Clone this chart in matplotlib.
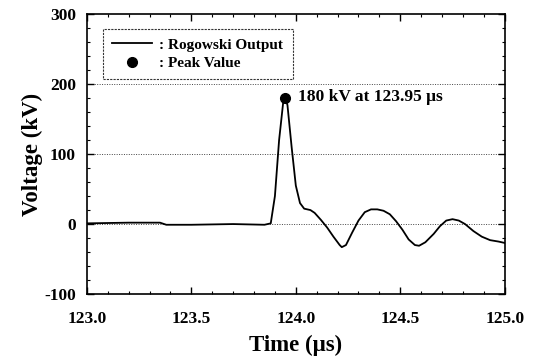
import matplotlib
matplotlib.use("Agg")
import matplotlib.pyplot as plt
from matplotlib.ticker import MultipleLocator

plt.rcParams['font.family'] = ['Liberation Serif', 'DejaVu Serif']
plt.rcParams['font.weight'] = 'bold'
plt.rcParams['axes.unicode_minus'] = False

# waveform
time_us = [123.0, 123.2, 123.35, 123.38, 123.5, 123.7, 123.85, 123.88, 123.90, 123.92,
           123.94, 123.95, 123.96, 123.98, 124.00, 124.02, 124.04, 124.07, 124.09, 124.12,
           124.15, 124.18, 124.21, 124.22, 124.24, 124.27, 124.30, 124.33, 124.36, 124.39,
           124.42, 124.45, 124.48, 124.51, 124.54, 124.57, 124.59, 124.62, 124.66, 124.69,
           124.72, 124.75, 124.78, 124.81, 124.85, 124.89, 124.93, 124.97, 125.0]
voltage_kv = [1, 2, 2, -1, -1, 0, -1, 1, 40, 120,
              175, 180, 170, 110, 55, 30, 22, 20, 16, 6,
              -5, -18, -30, -33, -30, -12, 5, 17, 21, 21,
              19, 14, 4, -8, -22, -30, -31, -26, -14, -3,
              5, 7, 5, 0, -10, -18, -23, -25, -27]
peak_t = 123.95
peak_v = 180

fig = plt.figure(figsize=(5.33, 3.63), dpi=100)
ax = fig.add_axes([0.163, 0.19, 0.784, 0.771])

for g in [0, 100, 200]:
    ax.axhline(g, color='#444444', lw=0.7, ls=(0, (1, 1.5)), zorder=1)

ax.plot(time_us, voltage_kv, color='black', lw=1.3, label=': Rogowski Output', zorder=3)
ax.plot([peak_t], [peak_v], 'o', color='black', ms=7, label=': Peak Value', zorder=4)
ax.text(peak_t + 0.06, peak_v + 2, '180 kV at 123.95 \u03bcs', fontsize=12.5,
        fontweight='bold', va='center', ha='left')

ax.set_xlim(123.0, 125.0)
ax.set_ylim(-100, 300)
ax.xaxis.set_major_locator(MultipleLocator(0.5))
ax.xaxis.set_minor_locator(MultipleLocator(0.1))
ax.yaxis.set_major_locator(MultipleLocator(100))
ax.yaxis.set_minor_locator(MultipleLocator(20))
ax.set_xticks([123.0, 123.5, 124.0, 124.5, 125.0])
ax.set_xticklabels(['123.0', '123.5', '124.0', '124.5', '125.0'])
ax.tick_params(which='both', direction='in', top=True, right=True, labelsize=12.5)
ax.tick_params(axis='x', which='major', pad=12)
ax.tick_params(axis='y', which='major', pad=8)
ax.tick_params(which='major', length=5, width=1)
ax.tick_params(which='minor', length=2.5, width=0.8)
for lab in ax.get_xticklabels() + ax.get_yticklabels():
    lab.set_fontweight('bold')
for s in ax.spines.values():
    s.set_linewidth(1.2)

ax.set_xlabel('Time (\u03bcs)', fontsize=16.5, fontweight='bold', labelpad=6)
ax.set_ylabel('Voltage (kV)', fontsize=16.5, fontweight='bold', labelpad=1)

leg = ax.legend(loc='upper left', bbox_to_anchor=(0.02, 0.975), fontsize=11,
                frameon=True, fancybox=False, handlelength=2.6, borderpad=0.6,
                labelspacing=0.3, handletextpad=0.5)
leg.get_frame().set_edgecolor('black')
leg.get_frame().set_linewidth(0.8)
leg.get_frame().set_linestyle((0, (2, 1)))

fig.savefig('out.png', dpi=100)
